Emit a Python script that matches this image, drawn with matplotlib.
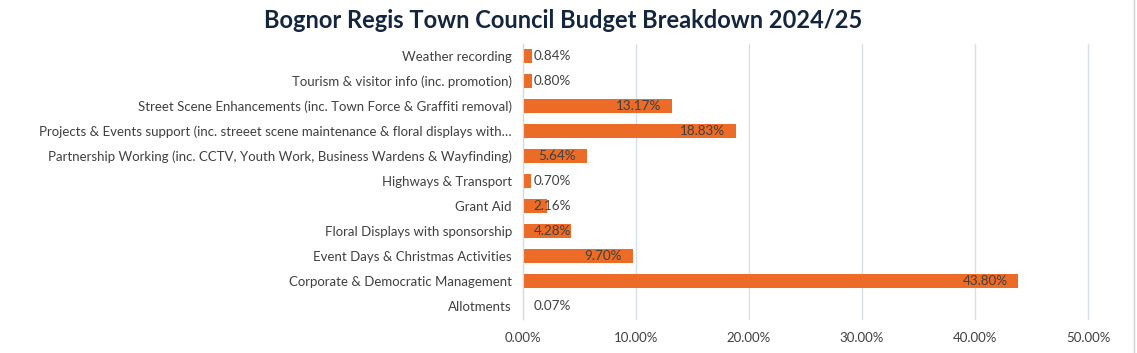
import matplotlib
matplotlib.use("Agg")
import matplotlib.pyplot as plt
from matplotlib.lines import Line2D
from matplotlib.ticker import FuncFormatter, MultipleLocator

plt.rcParams['font.family'] = ['Lato', 'DejaVu Sans']

categories = [
    "Allotments",
    "Corporate & Democratic Management",
    "Event Days & Christmas Activities",
    "Floral Displays with sponsorship",
    "Grant Aid",
    "Highways & Transport",
    "Partnership Working (inc. CCTV, Youth Work, Business Wardens & Wayfinding)",
    "Projects & Events support (inc. streeet scene maintenance & floral displays with\u2026",
    "Street Scene Enhancements (inc. Town Force & Graffiti removal)",
    "Tourism & visitor info (inc. promotion)",
    "Weather recording",
]
values = [0.07, 43.80, 9.70, 4.28, 2.16, 0.70, 5.64, 18.83, 13.17, 0.80, 0.84]
title = "Bognor Regis Town Council Budget Breakdown 2024/25"

fig = plt.figure(figsize=(11.37, 3.53), dpi=100)
ax = fig.add_axes([523/1137, 1-318.5/353, (1088-523)/1137, (318.5-43.5)/353])

y = list(range(len(categories)))
ax.barh(y, values, height=0.56, color="#EB6B27", zorder=3)
ax.set_ylim(-0.5, len(categories) - 0.5)
ax.set_xlim(0, 50)
ax.xaxis.set_major_locator(MultipleLocator(10))
ax.xaxis.set_major_formatter(FuncFormatter(lambda v, p: f"{v:.2f}%"))
ax.set_yticks(y)
ax.set_yticklabels(categories)
ax.tick_params(axis='both', length=0, colors="#404040", labelsize=9.5)
ax.tick_params(axis='y', pad=8)
ax.tick_params(axis='x', pad=10)
ax.grid(axis='x', color="#D5E0EA", linewidth=1, zorder=0)
for g in ax.get_xgridlines():
    g.set_clip_on(False)
for s in ["top", "right", "bottom"]:
    ax.spines[s].set_visible(False)
ax.spines["left"].set_color("#D9D9D9")
ax.spines["left"].set_zorder(4)

fig.canvas.draw()
renderer = fig.canvas.get_renderer()
axis_px = ax.transData.transform((0, 0))[0]
pad_pt = 7.5  # ~10 px
for yi, v in zip(y, values):
    txt = f"{v:.2f}%"
    t = ax.annotate(txt, (v, yi), xytext=(-pad_pt, 0), textcoords="offset points",
                    ha="right", va="center", fontsize=9.7, color="#404040", zorder=5)
    bb = t.get_window_extent(renderer)
    if bb.x0 < axis_px + 10:
        t.remove()
        ax.annotate(txt, (0, yi), xytext=(pad_pt, 0), textcoords="offset points",
                    ha="left", va="center", fontsize=9.7, color="#404040", zorder=5)

fig.text(563/1137, 1-21/353, title, ha="center", va="center", fontsize=17,
         fontweight="bold", color="#14263D")

fig.add_artist(Line2D([1134/1137, 1134/1137], [0, 1], color="#D0D0D0", linewidth=1))

fig.savefig("out.png", dpi=100)
